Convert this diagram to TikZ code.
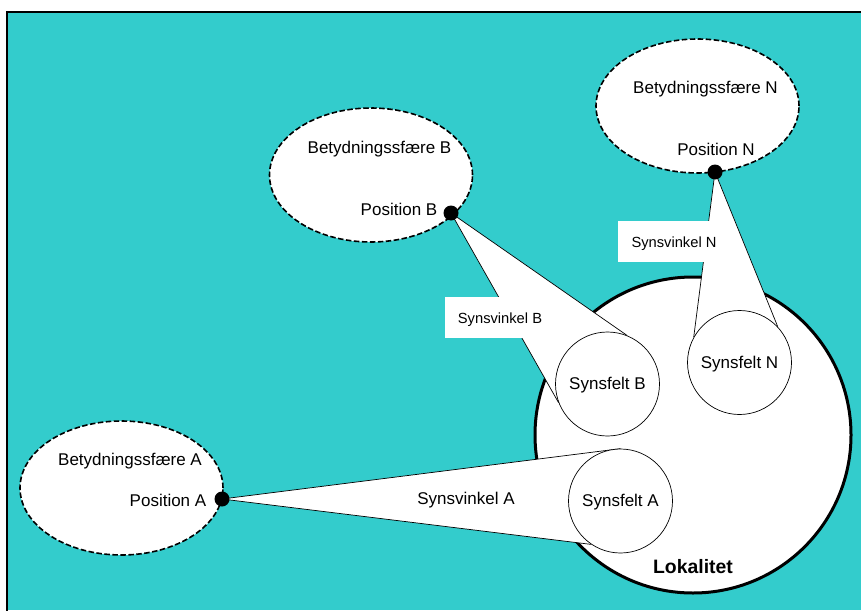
\documentclass[tikz,border=0pt]{standalone}
\usepackage{fontspec}
\setmainfont{Liberation Sans}
\usetikzlibrary{shapes.geometric}
\definecolor{tealbg}{HTML}{33CCCC}
\pgfdeclarelayer{back}
\pgfdeclarelayer{mid}
\pgfsetlayers{back,mid,main}
\begin{document}
\begin{tikzpicture}[x=1pt,y=-1pt,
  sphere/.style={ellipse,draw,fill=white,dash pattern=on 5.5pt off 2.5pt,line width=1.6pt,minimum width=203pt,minimum height=134pt,inner sep=0pt},
  txt/.style={inner sep=0pt,font=\fontsize{17}{20}\selectfont,text height=0.72em,text depth=0pt,yshift=-2.5pt},
  field/.style={circle,draw,fill=white,line width=0.7pt,minimum size=104pt,inner sep=0pt},
  fieldtxt/.style={inner sep=0pt,font=\fontsize{17}{20}\selectfont,text height=0.72em,text depth=0pt,yshift=-2pt},
  anglbl/.style={fill=white,minimum width=112pt,minimum height=41pt,inner sep=0pt},
  angtxt/.style={inner sep=0pt,font=\fontsize{14.7}{17}\selectfont,text height=0.72em,text depth=0pt,yshift=-2pt},
  posdot/.style={circle,fill=black,minimum size=15pt,inner sep=0pt},
  coneline/.style={line width=0.7pt}]
\useasboundingbox (0,0) rectangle (861,610);
\begin{pgfonlayer}{back}
\fill[tealbg] (7,12) rectangle (861,610);
\draw[line width=1.5pt] (862,12) -- (7,12) -- (7,611);
\node[circle,draw,fill=white,line width=3pt,minimum size=316pt,inner sep=0pt] (lok) at (693,435) {};
\end{pgfonlayer}
% spheres
\node[sphere] (sA) at (121.5,488) {};
\node[sphere] (sB) at (371,175) {};
\node[sphere] (sN) at (697.5,106) {};
% fields
\node[field] (fA) at (620.5,501) {};
\node[field] (fB) at (607.5,384) {};
\node[field] (fN) at (739.5,362.5) {};
\node[fieldtxt] (fAt) at (fA) {Synsfelt A};
\node[fieldtxt] (fBt) at (fB) {Synsfelt B};
\node[fieldtxt] (fNt) at (fN) {Synsfelt N};
% position dots
\node[posdot] (pA) at (222,499) {};
\node[posdot] (pB) at (451,213) {};
\node[posdot] (pN) at (715,172) {};
% cones
\begin{pgfonlayer}{mid}
\fill[white] (pA.center) -- (fA.90) -- (fA.236) -- cycle;
\draw[coneline] (fA.90) -- (pA.center) -- (fA.236);
\fill[white] (pB.center) -- (fB.68) -- (fB.201) -- cycle;
\draw[coneline] (fB.68) -- (pB.center) -- (fB.201);
\fill[white] (pN.center) -- (fN.43) -- (fN.151) -- cycle;
\draw[coneline] (fN.43) -- (pN.center) -- (fN.151);
\end{pgfonlayer}
% angle labels
\node[anglbl] (vB) at (501,317.5) {};
\node[anglbl] (vN) at (674,241.5) {};
\node[angtxt] (vBt) at (500,317.5) {Synsvinkel B};
\node[angtxt] (vNt) at (674,241.5) {Synsvinkel N};
\node[txt] (vA) at (466,498) {Synsvinkel A};
% texts
\node[txt] (bA) at (130,459) {Betydningssfære A};
\node[txt] (tA) at (168,500) {Position A};
\node[txt] (bB) at (379.5,147) {Betydningssfære B};
\node[txt] (tB) at (399,209) {Position B};
\node[txt] (bN) at (705.5,87) {Betydningssfære N};
\node[txt] (tN) at (716,149) {Position N};
\node[inner sep=0pt,font=\fontsize{19.4}{22}\selectfont\bfseries,text height=0.72em,text depth=0pt,yshift=-2.5pt] (lokt) at (693,567) {Lokalitet};
\end{tikzpicture}
\end{document}
